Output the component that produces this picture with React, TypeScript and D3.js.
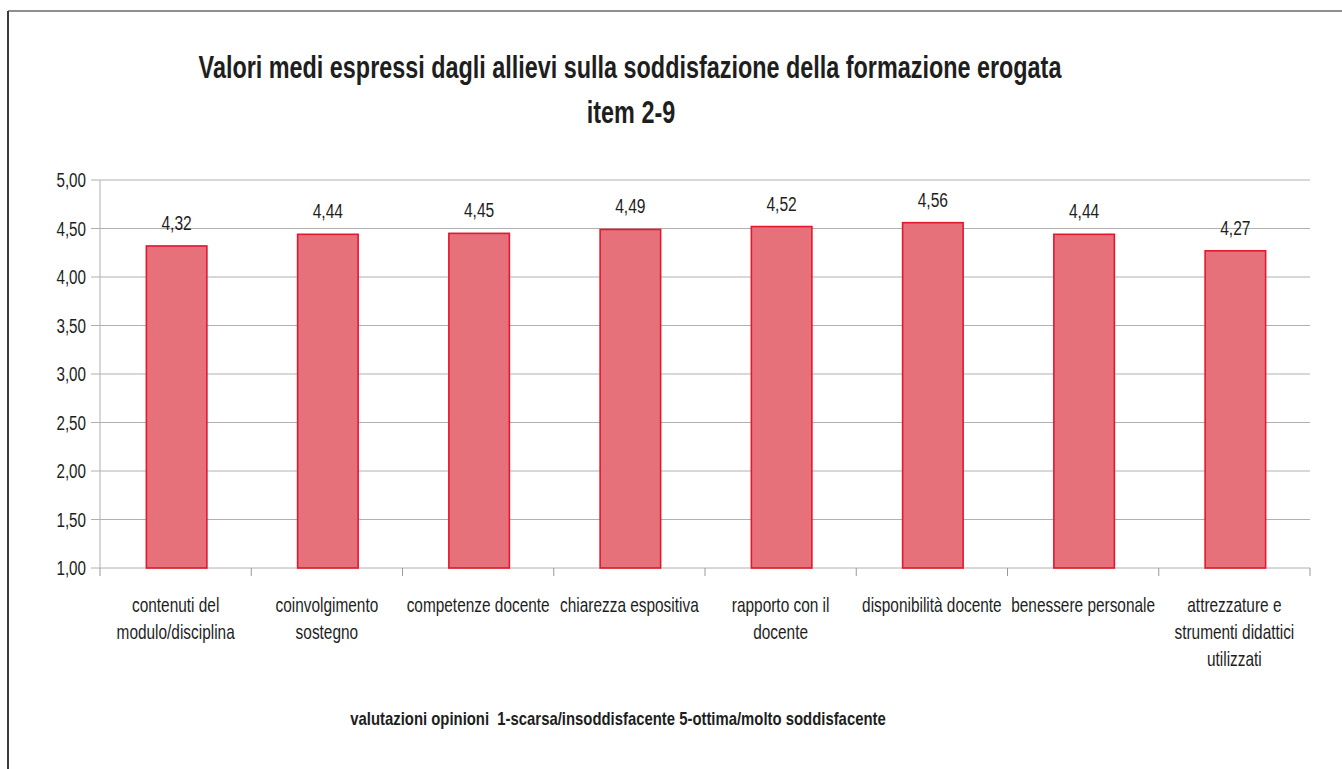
import React from "react";
import * as d3 from "d3";

const categories: string[][] = [
  ["contenuti del", "modulo/disciplina"],
  ["coinvolgimento", "sostegno"],
  ["competenze docente"],
  ["chiarezza espositiva"],
  ["rapporto con il", "docente"],
  ["disponibilità docente"],
  ["benessere personale"],
  ["attrezzature e", "strumenti didattici", "utilizzati"],
];
const values: number[] = [4.32, 4.44, 4.45, 4.49, 4.52, 4.56, 4.44, 4.27];
const yTicks: number[] = [1, 1.5, 2, 2.5, 3, 3.5, 4, 4.5, 5];
const titleLines: string[] = [
  "Valori medi espressi dagli allievi sulla soddisfazione della formazione erogata",
  "item 2-9",
];
const note = "valutazioni opinioni  1-scarsa/insoddisfacente 5-ottima/molto soddisfacente";

const W = 1342;
const H = 769;
const plot = { left: 100, right: 1310, top: 180, bottom: 568 };
const FONT = "'Liberation Sans', Arial, sans-serif";
const TEXT = "#1e1e1e";

const locale = d3.formatLocale({ decimal: ",", thousands: ".", grouping: [3], currency: ["€", ""] });
const fmt = locale.format(".2f");

function SText(props: {
  x: number; y: number; sx: number; size: number; anchor?: string; weight?: string | number; children: React.ReactNode;
}) {
  const { x, y, sx, size, anchor = "middle", weight = "normal", children } = props;
  return (
    <text
      transform={`translate(${x},${y}) scale(${sx},1)`}
      textAnchor={anchor}
      fontFamily={FONT}
      fontSize={size}
      fontWeight={weight}
      fill={TEXT}
      style={{ whiteSpace: "pre" }}
    >
      {children}
    </text>
  );
}

export default function App() {
  const keys = categories.map((_, i) => String(i));
  const x = d3.scaleBand<string>().domain(keys).range([plot.left, plot.right]).padding(0);
  const y = d3.scaleLinear().domain([1, 5]).range([plot.bottom, plot.top]);
  const bw = x.bandwidth();
  const barW = bw * 0.4;

  return (
    <svg
      width={W}
      height={H}
      style={{ position: "absolute", left: 0, top: 0, background: "#fff" }}
    >
      <rect x={0} y={0} width={W} height={H} fill="#fff" />
      {/* frame */}
      <line x1={8} y1={11} x2={W + 5} y2={11} stroke="#6a6a6a" strokeWidth={1.6} />
      <line x1={8} y1={11} x2={8} y2={H + 5} stroke="#3c3c3c" strokeWidth={2} />

      {/* title */}
      <SText x={630} y={78} sx={0.731} size={32} weight="bold">{titleLines[0]}</SText>
      <SText x={631} y={123} sx={0.731} size={32} weight="bold">{titleLines[1]}</SText>

      {/* gridlines */}
      {yTicks.map((t) => (
        <line
          key={"g" + t}
          x1={plot.left - 9}
          x2={plot.right}
          y1={y(t)}
          y2={y(t)}
          stroke="#b0b0b0"
          strokeWidth={1}
        />
      ))}
      {/* y axis line */}
      <line x1={plot.left} x2={plot.left} y1={plot.top} y2={plot.bottom} stroke="#b0b0b0" strokeWidth={1} />
      {/* x tick marks */}
      {keys.map((k) => (
        <line key={"t" + k} x1={x(k)!} x2={x(k)!} y1={plot.bottom} y2={plot.bottom + 8} stroke="#9a9a9a" strokeWidth={1} />
      ))}
      <line x1={plot.right} x2={plot.right} y1={plot.bottom} y2={plot.bottom + 8} stroke="#9a9a9a" strokeWidth={1} />

      {/* y labels */}
      {yTicks.map((t) => (
        <SText key={"yl" + t} x={86} y={y(t) + 7} sx={0.78} size={19.5} anchor="end">
          {fmt(t)}
        </SText>
      ))}

      {/* bars */}
      {values.map((v, i) => {
        const k = keys[i];
        const bx = x(k)! + (bw - barW) / 2 + 1;
        return (
          <g key={"b" + k}>
            <rect
              x={bx}
              y={y(v)}
              width={barW}
              height={y(1) - y(v)}
              fill="#E7717B"
              stroke="#E3172D"
              strokeWidth={1.6}
            />
            <SText x={bx + barW / 2} y={y(v) - 16} sx={0.8} size={19.5}>
              {fmt(v)}
            </SText>
          </g>
        );
      })}

      {/* x labels */}
      {categories.map((lines, i) =>
        lines.map((ln, j) => (
          <SText key={"xl" + i + "-" + j} x={x(keys[i])! + bw / 2} y={612 + j * 27} sx={0.734} size={21}>
            {ln}
          </SText>
        ))
      )}

      {/* note */}
      <SText x={618} y={725} sx={0.827} size={18} weight="bold">{note}</SText>
    </svg>
  );
}
